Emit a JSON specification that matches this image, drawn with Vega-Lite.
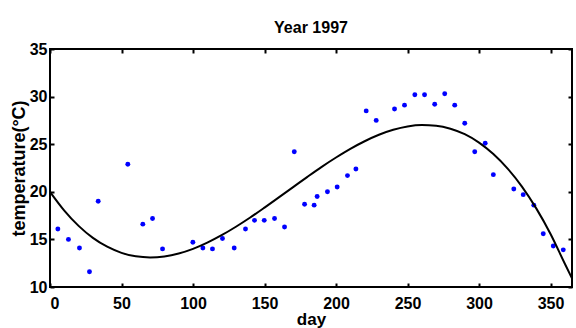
{
  "$schema": "https://vega.github.io/schema/vega-lite/v6.json",
  "width": 522,
  "height": 238,
  "autosize": "none",
  "padding": {"left": 50, "top": 49, "right": 4, "bottom": 41},
  "background": "white",
  "title": {
    "text": "Year 1997",
    "font": "Liberation Sans",
    "fontSize": 16,
    "fontWeight": "bold",
    "color": "black",
    "anchor": "middle",
    "offset": 5
  },
  "config": {
    "view": {"stroke": "black", "strokeWidth": 2},
    "axis": {
      "grid": false,
      "domain": false,
      "tickColor": "black",
      "tickWidth": 2,
      "tickSize": -4,
      "labelFont": "Liberation Sans",
      "labelFontSize": 16,
      "labelFontWeight": "bold",
      "labelColor": "black",
      "titleFont": "Liberation Sans",
      "titleFontWeight": "bold",
      "titleColor": "black"
    }
  },
  "datasets": {
    "obs": [
      {"day": 5.5, "temp": 16.1}, {"day": 12.9, "temp": 15.0}, {"day": 20.6, "temp": 14.1},
      {"day": 27.6, "temp": 11.6}, {"day": 33.7, "temp": 19.0}, {"day": 54.4, "temp": 22.9},
      {"day": 64.9, "temp": 16.6}, {"day": 71.7, "temp": 17.2}, {"day": 78.7, "temp": 14.0},
      {"day": 99.9, "temp": 14.7}, {"day": 106.9, "temp": 14.1}, {"day": 113.6, "temp": 14.0},
      {"day": 120.6, "temp": 15.1}, {"day": 128.8, "temp": 14.1}, {"day": 136.7, "temp": 16.1},
      {"day": 143.0, "temp": 17.0}, {"day": 149.8, "temp": 17.0}, {"day": 157.0, "temp": 17.2},
      {"day": 164.0, "temp": 16.3}, {"day": 170.8, "temp": 24.2}, {"day": 178.0, "temp": 18.7},
      {"day": 184.7, "temp": 18.6}, {"day": 186.8, "temp": 19.5}, {"day": 194.0, "temp": 20.0},
      {"day": 200.8, "temp": 20.5}, {"day": 208.0, "temp": 21.7}, {"day": 213.9, "temp": 22.4},
      {"day": 221.1, "temp": 28.5}, {"day": 228.1, "temp": 27.5}, {"day": 240.9, "temp": 28.7},
      {"day": 247.9, "temp": 29.1}, {"day": 255.1, "temp": 30.2}, {"day": 261.9, "temp": 30.2},
      {"day": 269.0, "temp": 29.2}, {"day": 276.0, "temp": 30.3}, {"day": 283.0, "temp": 29.1},
      {"day": 290.0, "temp": 27.2}, {"day": 297.0, "temp": 24.2}, {"day": 304.3, "temp": 25.1},
      {"day": 310.0, "temp": 21.8}, {"day": 324.3, "temp": 20.3}, {"day": 330.9, "temp": 19.7},
      {"day": 338.3, "temp": 18.6}, {"day": 344.9, "temp": 15.6}, {"day": 351.9, "temp": 14.3},
      {"day": 358.9, "temp": 13.9}
    ],
    "fit": [
      {"day": 0, "temp": 20.0}, {"day": 10, "temp": 18.03}, {"day": 20, "temp": 16.42},
      {"day": 30, "temp": 15.16}, {"day": 40, "temp": 14.23}, {"day": 50, "temp": 13.59},
      {"day": 60, "temp": 13.22}, {"day": 70, "temp": 13.10}, {"day": 80, "temp": 13.21},
      {"day": 90, "temp": 13.52}, {"day": 100, "temp": 14.01}, {"day": 110, "temp": 14.66},
      {"day": 120, "temp": 15.44}, {"day": 130, "temp": 16.33}, {"day": 140, "temp": 17.30},
      {"day": 150, "temp": 18.34}, {"day": 160, "temp": 19.41}, {"day": 170, "temp": 20.49},
      {"day": 180, "temp": 21.57}, {"day": 190, "temp": 22.62}, {"day": 200, "temp": 23.60},
      {"day": 210, "temp": 24.51}, {"day": 220, "temp": 25.31}, {"day": 230, "temp": 25.99},
      {"day": 240, "temp": 26.51}, {"day": 250, "temp": 26.86}, {"day": 260, "temp": 27.01},
      {"day": 270, "temp": 26.94}, {"day": 280, "temp": 26.63}, {"day": 290, "temp": 26.05},
      {"day": 300, "temp": 25.17}, {"day": 310, "temp": 23.97}, {"day": 320, "temp": 22.44},
      {"day": 330, "temp": 20.55}, {"day": 340, "temp": 18.26}, {"day": 350, "temp": 15.57},
      {"day": 360, "temp": 12.44}, {"day": 365, "temp": 10.9}
    ]
  },
  "layer": [
    {
      "data": {"name": "obs"},
      "mark": {"type": "point", "shape": "circle", "filled": true, "size": 24, "color": "#0000ff", "opacity": 1},
      "encoding": {
        "x": {
          "field": "day", "type": "quantitative",
          "scale": {"domain": [0, 365], "nice": false, "zero": false},
          "axis": {"orient": "bottom", "values": [0, 50, 100, 150, 200, 250, 300, 350], "labelPadding": 12, "title": "day", "titleFontSize": 17, "titlePadding": 0}
        },
        "y": {
          "field": "temp", "type": "quantitative",
          "scale": {"domain": [10, 35], "nice": false, "zero": false},
          "axis": {"orient": "left", "values": [10, 15, 20, 25, 30, 35], "labelPadding": 7, "title": "temperature(°C)", "titleFontSize": 18, "titleX": -22, "titleY": 119, "titleAlign": "center", "titleBaseline": "bottom"}
        }
      }
    },
    {
      "data": {"name": "fit"},
      "mark": {"type": "line", "color": "black", "strokeWidth": 2, "interpolate": "monotone"},
      "encoding": {
        "x": {
          "field": "day", "type": "quantitative",
          "scale": {"domain": [0, 365], "nice": false, "zero": false},
          "axis": {"orient": "top", "values": [0, 50, 100, 150, 200, 250, 300, 350], "labels": false, "title": null}
        },
        "y": {
          "field": "temp", "type": "quantitative",
          "scale": {"domain": [10, 35], "nice": false, "zero": false},
          "axis": {"orient": "right", "values": [10, 15, 20, 25, 30, 35], "labels": false, "title": null}
        }
      }
    }
  ],
  "resolve": {"axis": {"x": "independent", "y": "independent"}}
}
